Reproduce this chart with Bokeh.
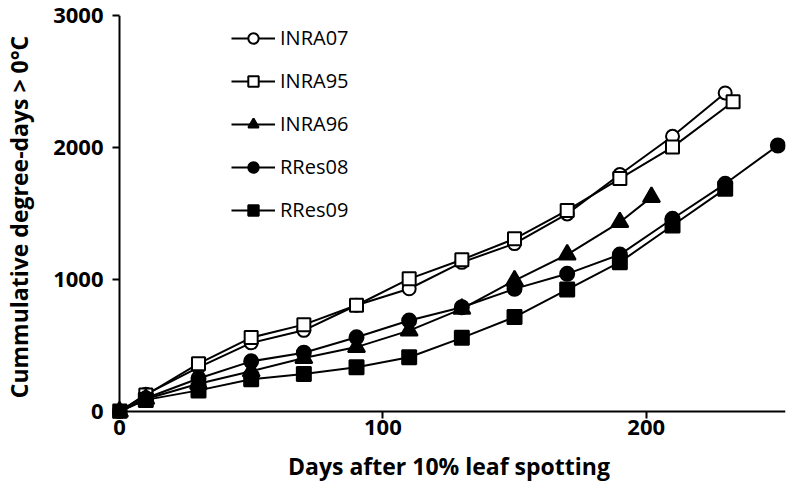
from bokeh.plotting import figure
from bokeh.models import Range1d, FixedTicker, Span, Legend, LegendItem
from bokeh.embed import file_html
from bokeh.resources import INLINE

# ---- data ----
days_inra07 = [0, 10, 30, 50, 70, 90, 110, 130, 150, 170, 190, 210, 230]
inra07 = [0, 130, 335, 520, 615, 805, 930, 1130, 1272, 1497, 1795, 2085, 2413]

days_inra95 = [0, 10, 30, 50, 70, 90, 110, 130, 150, 170, 190, 210, 233]
inra95 = [0, 125, 362, 560, 658, 805, 1005, 1150, 1308, 1523, 1765, 2003, 2347]

days_inra96 = [0, 10, 30, 50, 70, 90, 110, 130, 150, 170, 190, 202]
inra96 = [0, 95, 210, 305, 405, 488, 613, 778, 992, 1189, 1434, 1624]

days_rres08 = [0, 10, 30, 50, 70, 90, 110, 130, 150, 170, 190, 210, 230, 250]
rres08 = [0, 100, 250, 380, 445, 562, 689, 790, 929, 1043, 1189, 1460, 1725, 2015]

days_rres09 = [0, 10, 30, 50, 70, 90, 110, 130, 150, 170, 190, 210, 230]
rres09 = [0, 88, 160, 245, 285, 335, 411, 558, 715, 924, 1131, 1409, 1687]

x_ticks = [0, 100, 200]
y_ticks = [0, 1000, 2000, 3000]

FONT = "Open Sans"

p = figure(width=786, height=496, output_backend="svg", toolbar_location=None,
           x_range=Range1d(-2.66, 252.9), y_range=Range1d(-53, 3000),
           min_border_left=112, min_border_right=1, min_border_top=15,
           min_border_bottom=78)
p.outline_line_color = None
p.grid.visible = False
p.background_fill_color = "white"

# axes
for ax in (p.xaxis[0], p.yaxis[0]):
    ax.axis_line_color = None
    ax.major_tick_in = 7
    ax.major_tick_out = 0
    ax.major_tick_line_width = 2
    ax.major_tick_line_color = "black"
    ax.minor_tick_line_color = None
    ax.major_label_text_font = FONT
    ax.major_label_text_font_style = "bold"
    ax.major_label_text_font_size = "22px"
    ax.major_label_text_color = "black"
    ax.axis_label_text_font = FONT
    ax.axis_label_text_font_style = "bold"
    ax.axis_label_text_font_size = "23px"
    ax.axis_label_text_color = "black"

p.xaxis.ticker = FixedTicker(ticks=x_ticks)
p.yaxis.ticker = FixedTicker(ticks=y_ticks)
p.xaxis.axis_label = "Days after 10% leaf spotting"
p.yaxis.axis_label = "Cummulative degree-days > 0°C"
p.xaxis.major_label_standoff = 1
p.xaxis.axis_label_standoff = 12
p.yaxis.major_label_standoff = 9
p.yaxis.axis_label_standoff = 15

# axis lines through the origin
p.add_layout(Span(location=0, dimension="width", line_color="black", line_width=2))
p.add_layout(Span(location=0, dimension="height", line_color="black", line_width=2))

series = [
    ("INRA07", days_inra07, inra07, "circle", 13, "white"),
    ("INRA95", days_inra95, inra95, "square", 13, "white"),
    ("INRA96", days_inra96, inra96, "triangle", 17, "black"),
    ("RRes08", days_rres08, rres08, "circle", 14, "black"),
    ("RRes09", days_rres09, rres09, "square", 14, "black"),
]

items = []
for name, xs, ys, marker, size, fill in series:
    ln = p.line(xs, ys, line_color="black", line_width=2)
    sc = p.scatter(xs, ys, marker=marker, size=size, fill_color=fill,
                   line_color="black", line_width=2)
    items.append(LegendItem(label=name, renderers=[ln, sc]))

legend = Legend(items=items, location=(119, 195), orientation="vertical",
                glyph_width=44, glyph_height=26, label_height=27,
                spacing=16, padding=0, margin=0, label_standoff=5,
                border_line_color=None, background_fill_alpha=0,
                label_text_font=FONT, label_text_font_size="20px",
                label_text_color="black")
p.add_layout(legend)

open("out.html", "w").write(file_html(p, INLINE))
